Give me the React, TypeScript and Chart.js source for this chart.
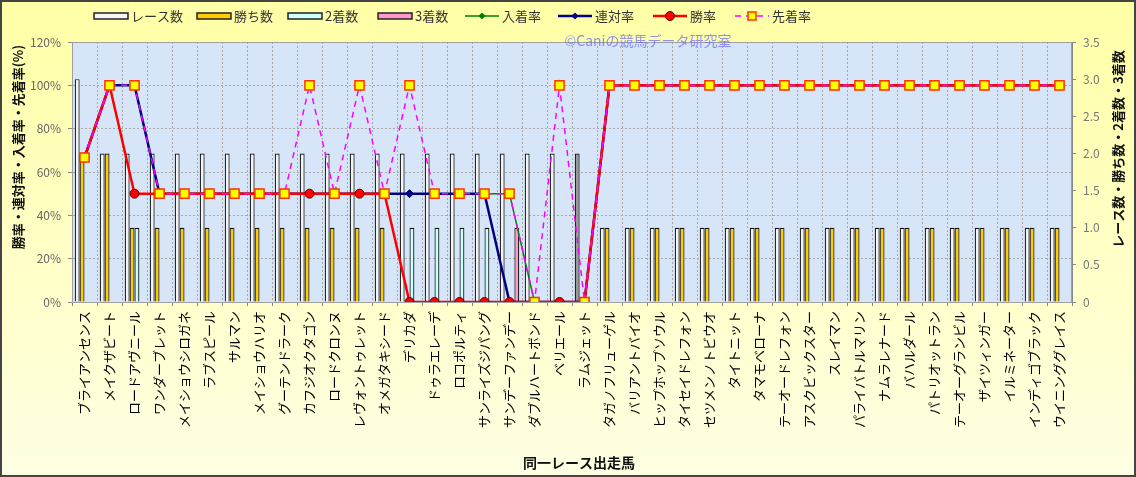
import React, { useEffect, useRef } from "react";
import { Chart, registerables } from "chart.js";

Chart.register(...registerables);

const horses: string[] = [
  "ブライアンセンス", "メイクザビート", "ロードアヴニール", "ワンダーブレット", "メイショウシロガネ",
  "ラブスピール", "サルマン", "メイショウハリオ", "グーテンドラーク", "カフジオクタゴン",
  "ロードクロンヌ", "レヴォントゥレット", "オメガタキシード", "デリカダ", "ドゥラエレーデ",
  "ロコポルティ", "サンライズジパング", "サンデーファンデー", "ダブルハートボンド", "ベリエール",
  "ラムジェット", "タガノフリューゲル", "バリアントバイオ", "ヒップホップソウル", "タイセイドレフォン",
  "セツメンノトビウオ", "タイトニット", "タマモベローナ", "テーオードレフォン", "アスクビックスター",
  "スレイマン", "パライバトルマリン", "ナムラレナード", "バハルダール", "パトリオットラン",
  "テーオーグランビル", "ザイツィンガー", "イルミネーター", "インディゴブラック", "ウイニンググレイス",
];

const races: number[] = [3, 2, 2, 2, 2, 2, 2, 2, 2, 2, 2, 2, 2, 2, 2, 2, 2, 2, 2, 2, 2, 1, 1, 1, 1, 1, 1, 1, 1, 1, 1, 1, 1, 1, 1, 1, 1, 1, 1, 1];
const wins: number[] = [2, 2, 1, 1, 1, 1, 1, 1, 1, 1, 1, 1, 1, 0, 0, 0, 0, 0, 0, 0, 0, 1, 1, 1, 1, 1, 1, 1, 1, 1, 1, 1, 1, 1, 1, 1, 1, 1, 1, 1];
const seconds: number[] = [0, 0, 1, 0, 0, 0, 0, 0, 0, 0, 0, 0, 0, 1, 1, 1, 1, 0, 0, 0, 0, 0, 0, 0, 0, 0, 0, 0, 0, 0, 0, 0, 0, 0, 0, 0, 0, 0, 0, 0];
const thirds: number[] = [0, 0, 0, 0, 0, 0, 0, 0, 0, 0, 0, 0, 0, 0, 0, 0, 0, 1, 0, 0, 0, 0, 0, 0, 0, 0, 0, 0, 0, 0, 0, 0, 0, 0, 0, 0, 0, 0, 0, 0];

const placeRate: number[] = [66.7, 100, 100, 50, 50, 50, 50, 50, 50, 50, 50, 50, 50, 50, 50, 50, 50, 50, 0, 0, 0, 100, 100, 100, 100, 100, 100, 100, 100, 100, 100, 100, 100, 100, 100, 100, 100, 100, 100, 100];
const quinellaRate: number[] = [66.7, 100, 100, 50, 50, 50, 50, 50, 50, 50, 50, 50, 50, 50, 50, 50, 50, 0, 0, 0, 0, 100, 100, 100, 100, 100, 100, 100, 100, 100, 100, 100, 100, 100, 100, 100, 100, 100, 100, 100];
const winRate: number[] = [66.7, 100, 50, 50, 50, 50, 50, 50, 50, 50, 50, 50, 50, 0, 0, 0, 0, 0, 0, 0, 0, 100, 100, 100, 100, 100, 100, 100, 100, 100, 100, 100, 100, 100, 100, 100, 100, 100, 100, 100];
const aheadRate: number[] = [66.7, 100, 100, 50, 50, 50, 50, 50, 50, 100, 50, 100, 50, 100, 50, 50, 50, 50, 0, 100, 0, 100, 100, 100, 100, 100, 100, 100, 100, 100, 100, 100, 100, 100, 100, 100, 100, 100, 100, 100];

const highlightIndex = 20;

const FONT = "'Noto Sans CJK JP', 'Noto Sans', sans-serif";

const decorPlugin = {
  id: "decor",
  beforeDraw(chart: any) {
    const { ctx, width, height, chartArea } = chart;
    ctx.save();
    const g = ctx.createLinearGradient(0, 0, 0, height);
    g.addColorStop(0, "#FFFFA6");
    g.addColorStop(1, "#FFFFE4");
    ctx.fillStyle = g;
    ctx.fillRect(0, 0, width, height);
    ctx.fillStyle = "#D6E6F8";
    ctx.fillRect(chartArea.left, chartArea.top, chartArea.right - chartArea.left, chartArea.bottom - chartArea.top);
    ctx.strokeStyle = "#444";
    ctx.lineWidth = 2;
    ctx.strokeRect(1, 1, width - 2, height - 2);
    ctx.restore();
  },
  afterDraw(chart: any) {
    const { ctx, chartArea } = chart;
    ctx.save();
    ctx.strokeStyle = "#A0A0A0";
    ctx.lineWidth = 1;
    ctx.strokeRect(chartArea.left + 0.5, chartArea.top + 0.5, chartArea.right - chartArea.left - 1, chartArea.bottom - chartArea.top);

    // watermark
    ctx.font = `14px ${FONT}`;
    ctx.fillStyle = "rgba(110,110,255,0.75)";
    ctx.textAlign = "center";
    ctx.textBaseline = "middle";
    ctx.fillText("©Caniの競馬データ研究室", 648, 41);

    // axis titles
    ctx.fillStyle = "#111";
    ctx.font = `bold 13px ${FONT}`;
    ctx.save();
    ctx.translate(18, 147);
    ctx.rotate(-Math.PI / 2);
    ctx.fillText("勝率・連対率・入着率・先着率(%)", 0, 0);
    ctx.restore();
    ctx.save();
    ctx.translate(1118, 149);
    ctx.rotate(-Math.PI / 2);
    ctx.fillText("レース数・勝ち数・2着数・3着数", 0, 0);
    ctx.restore();
    ctx.font = `bold 14px ${FONT}`;
    ctx.fillText("同一レース出走馬", 579, 463);

    // legend
    const ly = 16;
    ctx.font = `13px ${FONT}`;
    ctx.textAlign = "left";
    const barItems: [number, string, string][] = [
      [94, "#F4F4F4", "レース数"],
      [197, "#FFCC00", "勝ち数"],
      [288, "#CCFFFF", "2着数"],
      [378, "#FF99CC", "3着数"],
    ];
    for (const [x, c, t] of barItems) {
      ctx.fillStyle = c;
      ctx.strokeStyle = "#222";
      ctx.lineWidth = 1.5;
      ctx.fillRect(x, ly - 3, 34, 6);
      ctx.strokeRect(x, ly - 3, 34, 6);
      ctx.fillStyle = "#333";
      ctx.fillText(t, x + 37, ly);
    }
    const lineItems: [number, string, string, string, number, boolean][] = [
      [465, "#008000", "diamond", "入着率", 1.5, false],
      [558, "#000080", "diamond", "連対率", 2.5, false],
      [653, "#FF0000", "circle", "勝率", 2.5, false],
      [735, "#FF00FF", "square", "先着率", 1.5, true],
    ];
    for (const [x, c, m, t, lw, dash] of lineItems) {
      ctx.strokeStyle = c;
      ctx.lineWidth = lw;
      ctx.setLineDash(dash ? [6, 5] : []);
      ctx.beginPath();
      ctx.moveTo(x, ly);
      ctx.lineTo(x + 34, ly);
      ctx.stroke();
      ctx.setLineDash([]);
      const cx = x + 17;
      if (m === "diamond") {
        ctx.fillStyle = c;
        ctx.beginPath();
        ctx.moveTo(cx, ly - 3.5);
        ctx.lineTo(cx + 3.5, ly);
        ctx.lineTo(cx, ly + 3.5);
        ctx.lineTo(cx - 3.5, ly);
        ctx.closePath();
        ctx.fill();
      } else if (m === "circle") {
        ctx.fillStyle = "#FF0000";
        ctx.strokeStyle = "#600000";
        ctx.lineWidth = 1;
        ctx.beginPath();
        ctx.arc(cx, ly, 4.5, 0, Math.PI * 2);
        ctx.fill();
        ctx.stroke();
      } else {
        ctx.fillStyle = "#FFFF00";
        ctx.strokeStyle = "#FF3300";
        ctx.lineWidth = 1.5;
        ctx.fillRect(cx - 4, ly - 4, 8, 8);
        ctx.strokeRect(cx - 4, ly - 4, 8, 8);
      }
      ctx.fillStyle = "#333";
      ctx.fillText(t, x + 37, ly);
    }
    ctx.restore();
  },
};

export default function App() {
  const ref = useRef<HTMLCanvasElement | null>(null);
  useEffect(() => {
    if (!ref.current) return;
    const barCommon = {
      type: "bar" as const,
      yAxisID: "y1",
      borderColor: "#111",
      borderWidth: 1.2,
      categoryPercentage: 0.78,
      barPercentage: 1,
    };
    const chart = new Chart(ref.current, {
      type: "bar",
      data: {
        labels: horses,
        datasets: [
          {
            ...barCommon,
            label: "レース数",
            data: races,
            backgroundColor: races.map((_, i) => (i === highlightIndex ? "#999999" : "#F4F4F4")),
            order: 5,
          },
          { ...barCommon, label: "勝ち数", data: wins, backgroundColor: "#FFCC00", order: 6 },
          { ...barCommon, label: "2着数", data: seconds, backgroundColor: "#CCFFFF", order: 7 },
          { ...barCommon, label: "3着数", data: thirds, backgroundColor: "#FF99CC", order: 8 },
          {
            type: "line",
            label: "入着率",
            data: placeRate,
            yAxisID: "y",
            borderColor: "#008000",
            backgroundColor: "#008000",
            borderWidth: 1.5,
            pointStyle: "rectRot",
            pointRadius: 3,
            pointBorderWidth: 1,
            order: 4,
          } as any,
          {
            type: "line",
            label: "連対率",
            data: quinellaRate,
            yAxisID: "y",
            borderColor: "#000080",
            backgroundColor: "#000080",
            borderWidth: 2.5,
            pointStyle: "rectRot",
            pointRadius: 4,
            pointBorderWidth: 1,
            order: 3,
          } as any,
          {
            type: "line",
            label: "勝率",
            data: winRate,
            yAxisID: "y",
            borderColor: "#FF0000",
            backgroundColor: "#FF0000",
            pointBorderColor: "#600000",
            borderWidth: 2.5,
            pointStyle: "circle",
            pointRadius: 4.5,
            pointBorderWidth: 1,
            order: 2,
          } as any,
          {
            type: "line",
            label: "先着率",
            data: aheadRate,
            yAxisID: "y",
            borderColor: "#FF00FF",
            backgroundColor: "#FFFF00",
            pointBorderColor: "#FF3300",
            borderWidth: 1.5,
            borderDash: [6, 5],
            pointStyle: "rect",
            pointRadius: 6.5,
            pointBorderWidth: 1.5,
            order: 1,
          } as any,
        ],
      },
      options: {
        animation: false,
        responsive: false,
        maintainAspectRatio: false,
        layout: { padding: { top: 42, left: 0, right: 0, bottom: 0 } },
        plugins: {
          legend: { display: false },
          tooltip: { enabled: false },
          title: { display: false },
        },
        scales: {
          x: {
            type: "category",
            offset: true,
            grid: { offset: true, color: "#A8A8A8", tickLength: 4, tickColor: "#888" },
            border: { color: "#888", dash: [2, 2] },
            ticks: {
              autoSkip: false,
              maxRotation: 90,
              minRotation: 90,
              padding: 5,
              color: "#000",
              font: { family: FONT, size: 13 },
            },
            afterFit: (s: any) => {
              s.height = 175;
            },
          },
          y: {
            position: "left",
            min: 0,
            max: 120,
            ticks: {
              stepSize: 20,
              padding: 7,
              color: "#666",
              font: { family: FONT, size: 12 },
              callback: (v: any) => `${v}%`,
            },
            grid: { color: "#A8A8A8", tickLength: 4, tickColor: "#888", tickBorderDash: [] },
            border: { color: "#888", dash: [2, 2] },
            afterFit: (s: any) => {
              s.width = 72;
            },
          },
          y1: {
            position: "right",
            min: 0,
            max: 3.5,
            ticks: {
              stepSize: 0.5,
              padding: 7,
              color: "#777",
              font: { family: FONT, size: 12 },
            },
            grid: { drawOnChartArea: false, tickLength: 4, tickColor: "#888" },
            border: { color: "#888" },
            afterFit: (s: any) => {
              s.width = 64;
            },
          },
        },
      } as any,
      plugins: [decorPlugin],
    });
    return () => chart.destroy();
  }, []);

  return (
    <div style={{ position: "absolute", left: 0, top: 0, width: 1136, height: 477 }}>
      <canvas ref={ref} width={1136} height={477} style={{ width: 1136, height: 477, display: "block" }} />
    </div>
  );
}
